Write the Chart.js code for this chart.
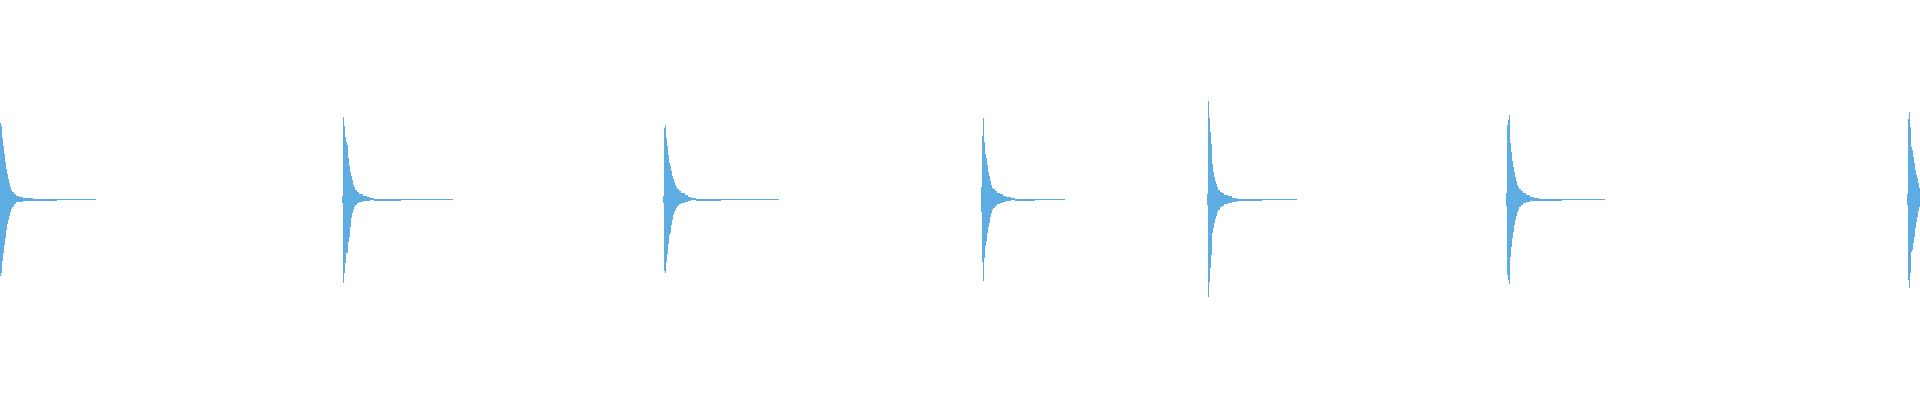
<!DOCTYPE html>
<html>
<head>
<meta charset="utf-8">
<title>Waveform</title>
<script src="https://cdn.jsdelivr.net/npm/chart.js@4.4.1/dist/chart.umd.min.js"></script>
<style>
    html, body { margin: 0; padding: 0; background: #ffffff; }
    #wrap { width: 1920px; height: 400px; position: relative; }
</style>
</head>
<body>
<div id="wrap"><canvas id="waveChart"></canvas></div>
<script>
// Hit onsets (ms)
const hitOnsets = [0, 343, 664, 982, 1208, 1507, 1908];

// Per hit: offsets from onset (ms), upper and lower envelope (amplitude units)
const hit1Offsets = [0, 1, 2, 3, 4, 5, 6, 7, 8, 9, 10, 11, 12, 14, 16, 19, 23, 33, 57, 96];
const hit1Upper = [76.5, 73.5, 61.5, 53.5, 45.5, 37.5, 30.5, 25.5, 20.5, 16.5, 12.5, 9.5, 7.5, 5.5, 3.5, 2.5, 1.5, 0.5, 0.5, 0];
const hit1Lower = [-76.5, -73.5, -61.5, -53.5, -45.5, -38.5, -30.5, -24.5, -20.5, -16.5, -12.5, -9.5, -7.5, -4.5, -2.5, -2.5, -1.5, -1.5, -0.5, 0];

const hit2Offsets = [-1, 0, 1, 2, 3, 4, 5, 6, 7, 8, 9, 10, 11, 12, 14, 16, 20, 24, 27, 31, 58, 110];
const hit2Upper = [3.5, 82.5, 73.5, 62.5, 57.5, 54.5, 41.5, 33.5, 27.5, 23.5, 19.5, 14.5, 12.5, 9.5, 7.5, 5.5, 3.5, 2.5, 1.5, 0.5, 0.5, 0];
const hit2Lower = [-3.5, -83.5, -73.5, -63.5, -53.5, -53.5, -42.5, -37.5, -27.5, -18.5, -13.5, -10.5, -7.5, -5.5, -3.5, -2.5, -1.5, -1.5, -0.5, -1.5, -0.5, 0];

const hit3Offsets = [-1, 0, 1, 2, 3, 4, 5, 6, 7, 8, 9, 10, 11, 12, 13, 15, 17, 21, 24, 27, 32, 57, 115];
const hit3Upper = [3.5, 71.5, 74.5, 61.5, 53.5, 44.5, 36.5, 33.5, 28.5, 23.5, 20.5, 17.5, 14.5, 12.5, 10.5, 8.5, 6.5, 4.5, 2.5, 1.5, 0.5, 0.5, 0];
const hit3Lower = [-3.5, -71.5, -73.5, -62.5, -54.5, -44.5, -35.5, -33.5, -25.5, -20.5, -15.5, -12.5, -10.5, -8.5, -6.5, -4.5, -3.5, -2.5, -1.5, -0.5, -1.5, -0.5, 0];

const hit4Offsets = [-1, 0, 1, 2, 3, 4, 5, 6, 7, 8, 9, 10, 11, 13, 15, 18, 21, 24, 29, 33, 53, 83];
const hit4Upper = [12.5, 63.5, 81.5, 57.5, 45.5, 41.5, 34.5, 27.5, 23.5, 18.5, 14.5, 11.5, 10.5, 8.5, 6.5, 5.5, 3.5, 2.5, 1.5, 0.5, 0.5, 0];
const hit4Lower = [-12.5, -62.5, -81.5, -58.5, -46.5, -41.5, -33.5, -27.5, -23.5, -17.5, -13.5, -10.5, -8.5, -6.5, -4.5, -3.5, -2.5, -1.5, -0.5, -1.5, -0.5, 0];

const hit5Offsets = [-1, 0, 1, 2, 3, 4, 5, 6, 7, 8, 9, 10, 12, 14, 16, 20, 24, 29, 54, 89];
const hit5Upper = [5.5, 98.5, 81.5, 67.5, 55.5, 35.5, 27.5, 22.5, 18.5, 15.5, 12.5, 9.5, 7.5, 6.5, 4.5, 3.5, 1.5, 0.5, 0.5, 0];
const hit5Lower = [-5.5, -97.5, -82.5, -68.5, -55.5, -33.5, -28.5, -23.5, -19.5, -16.5, -12.5, -10.5, -7.5, -6.5, -4.5, -3.5, -2.5, -1.5, -0.5, 0];

const hit6Offsets = [-1, 0, 1, 2, 3, 4, 5, 6, 7, 8, 9, 10, 11, 12, 14, 16, 19, 23, 27, 32, 55, 98];
const hit6Upper = [6.5, 74.5, 79.5, 84.5, 56.5, 47.5, 38.5, 32.5, 27.5, 22.5, 18.5, 14.5, 12.5, 10.5, 8.5, 6.5, 4.5, 2.5, 1.5, 0.5, 0.5, 0];
const hit6Lower = [-6.5, -75.5, -80.5, -84.5, -57.5, -47.5, -38.5, -32.5, -25.5, -20.5, -16.5, -12.5, -10.5, -7.5, -5.5, -3.5, -2.5, -1.5, -1.5, -1.5, -0.5, 0];

// last hit is cut off at the right edge
const hit7Offsets = [-1, 0, 1, 2, 3, 4, 5, 6, 7, 8, 9, 10, 11, 12];
const hit7Upper = [5.5, 80.5, 87.5, 72.5, 52.5, 49.5, 42.5, 36.5, 29.5, 24.5, 21.5, 16.5, 11.5, 11.5];
const hit7Lower = [-5.5, -80.5, -88.5, -73.5, -52.5, -50.5, -43.5, -37.5, -28.5, -22.5, -17.5, -11.5, -7.5, -7.5];

const hitOffsets = [hit1Offsets, hit2Offsets, hit3Offsets, hit4Offsets, hit5Offsets, hit6Offsets, hit7Offsets];
const hitUpper = [hit1Upper, hit2Upper, hit3Upper, hit4Upper, hit5Upper, hit6Upper, hit7Upper];
const hitLower = [hit1Lower, hit2Lower, hit3Lower, hit4Lower, hit5Lower, hit6Lower, hit7Lower];

const waveColor = '#5dade2';

function buildPoints(envelopes) {
    const points = [];
    hitOnsets.forEach((onset, h) => {
        hitOffsets[h].forEach((off, i) => {
            points.push({ x: onset + off, y: envelopes[h][i] });
        });
    });
    return points;
}

const ctx = document.getElementById('waveChart').getContext('2d');

new Chart(ctx, {
    type: 'line',
    data: {
        datasets: [
            {
                label: 'Peak',
                data: buildPoints(hitUpper),
                backgroundColor: waveColor,
                borderWidth: 0,
                fill: false,
                stepped: true,
                pointRadius: 0
            },
            {
                // one filled band between peak and trough, no seam at zero
                label: 'Trough',
                data: buildPoints(hitLower),
                backgroundColor: waveColor,
                borderWidth: 0,
                fill: '-1',
                stepped: true,
                pointRadius: 0
            }
        ]
    },
    options: {
        responsive: true,
        maintainAspectRatio: false,
        animation: false,
        devicePixelRatio: 1,
        layout: { padding: 0 },
        plugins: {
            legend: { display: false },
            tooltip: { enabled: false }
        },
        scales: {
            x: {
                type: 'linear',
                min: 0,
                max: 1920,
                display: false
            },
            y: {
                // half-pixel offset keeps the zero line on one pixel row
                min: -200.5,
                max: 199.5,
                display: false
            }
        }
    }
});
</script>
</body>
</html>
